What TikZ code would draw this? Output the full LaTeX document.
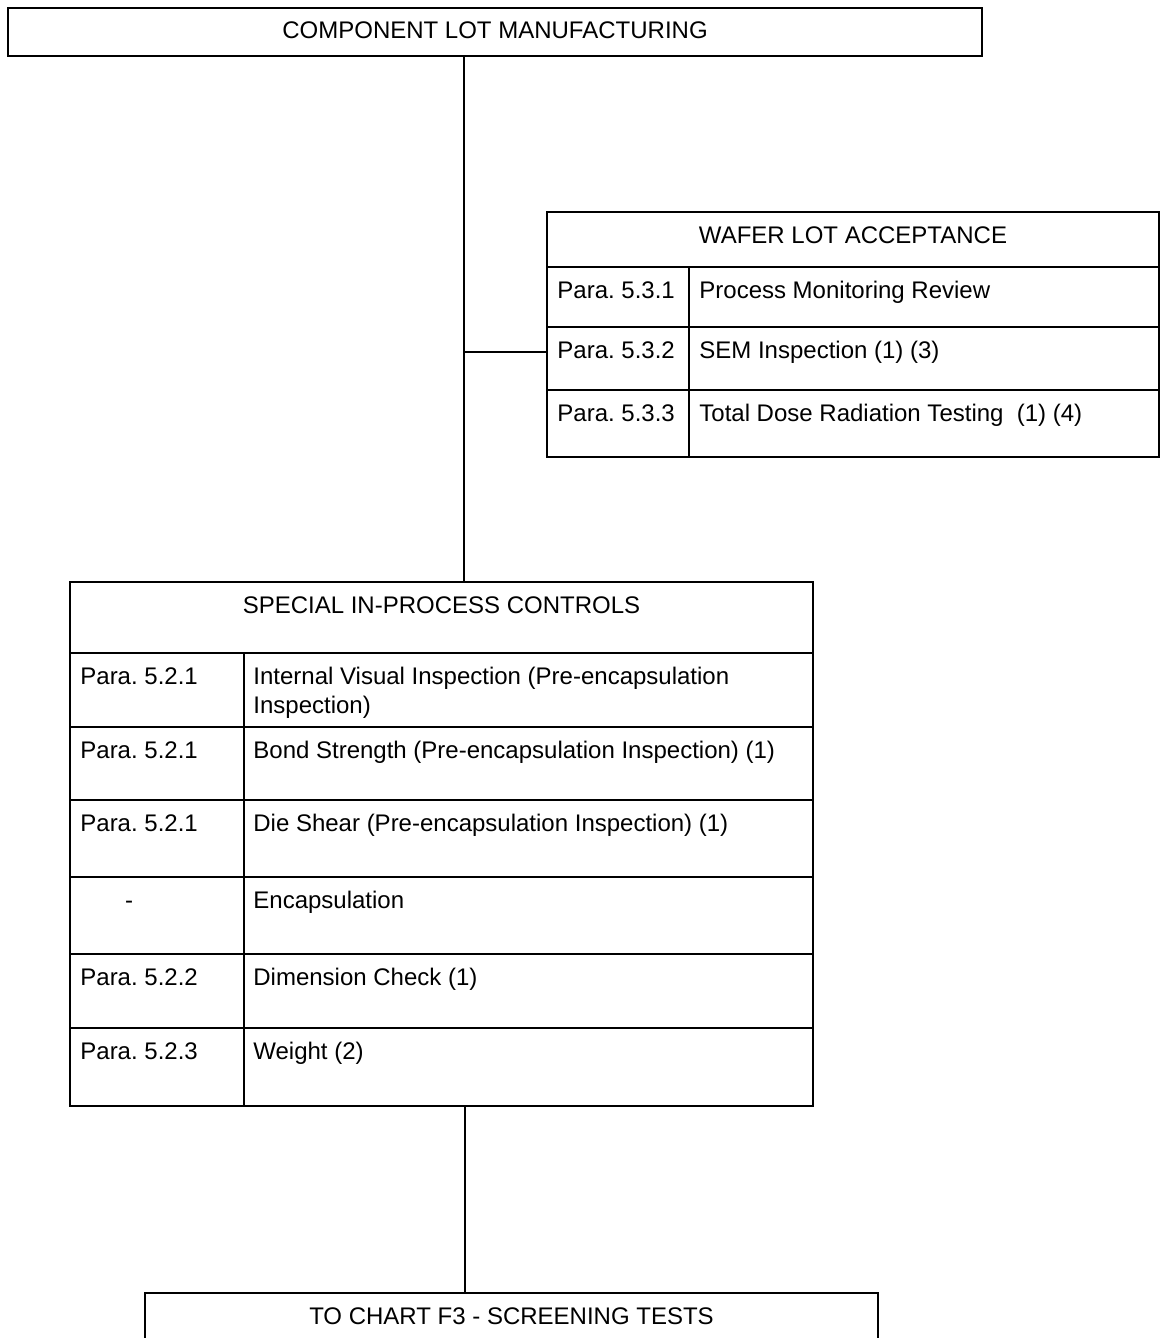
\documentclass[tikz,border=0pt]{standalone}
\usepackage{fontspec}
\setmainfont{Liberation Sans}
\frenchspacing
\tikzset{
  frame/.style={rectangle,draw=black,line width=1pt,inner sep=0pt},
  txt/.style={inner sep=0pt,font=\fontsize{12}{14.5}\selectfont},
  link/.style={draw=black,line width=1pt},
}
\begin{document}
\begin{tikzpicture}[x=0.5pt,y=-0.5pt]
\useasboundingbox (0,0) rectangle (1162,1338);
\clip (0,0) rectangle (1162,1338);
\node (top) at (495,32)[frame,minimum width=487pt,minimum height=24pt]{};
\node (ttop) at ([yshift=-16pt]top.north)[txt,anchor=base]{COMPONENT LOT MANUFACTURING};

% wafer lot acceptance
\node (wt) at (853,239.5)[frame,minimum width=306pt,minimum height=27.5pt]{};
\node (w1p) at (618,297)[frame,minimum width=71pt,minimum height=30pt]{};
\node (w1d) at (924,297)[frame,minimum width=235pt,minimum height=30pt]{};
\node (w2p) at (618,358.5)[frame,minimum width=71pt,minimum height=31.5pt]{};
\node (w2d) at (924,358.5)[frame,minimum width=235pt,minimum height=31.5pt]{};
\node (w3p) at (618,423.5)[frame,minimum width=71pt,minimum height=33.5pt]{};
\node (w3d) at (924,423.5)[frame,minimum width=235pt,minimum height=33.5pt]{};
\node (twt) at ([yshift=-16pt]wt.north)[txt,anchor=base]{WAFER LOT ACCEPTANCE};
\node (tw1p) at ([xshift=5.5pt,yshift=-16pt]w1p.north west)[txt,anchor=base west]{Para. 5.3.1};
\node (tw1d) at ([xshift=5.5pt,yshift=-16pt]w1d.north west)[txt,anchor=base west]{Process Monitoring Review};
\node (tw2p) at ([xshift=5.5pt,yshift=-16pt]w2p.north west)[txt,anchor=base west]{Para. 5.3.2};
\node (tw2d) at ([xshift=5.5pt,yshift=-16pt]w2d.north west)[txt,anchor=base west]{SEM Inspection (1) (3)};
\node (tw3p) at ([xshift=5.5pt,yshift=-16pt]w3p.north west)[txt,anchor=base west]{Para. 5.3.3};
\node (tw3d) at ([xshift=5.5pt,yshift=-16pt]w3d.north west)[txt,anchor=base west]{Total Dose Radiation Testing\ \ (1) (4)};

% special in-process controls
\node (st) at (441.5,617.5)[frame,minimum width=371.5pt,minimum height=35.5pt]{};
\node (s1p) at (157,690)[frame,minimum width=87pt,minimum height=37pt]{};
\node (s1d) at (528.5,690)[frame,minimum width=284.5pt,minimum height=37pt]{};
\node (s2p) at (157,763.5)[frame,minimum width=87pt,minimum height=36.5pt]{};
\node (s2d) at (528.5,763.5)[frame,minimum width=284.5pt,minimum height=36.5pt]{};
\node (s3p) at (157,838.5)[frame,minimum width=87pt,minimum height=38.5pt]{};
\node (s3d) at (528.5,838.5)[frame,minimum width=284.5pt,minimum height=38.5pt]{};
\node (s4p) at (157,915.5)[frame,minimum width=87pt,minimum height=38.5pt]{};
\node (s4d) at (528.5,915.5)[frame,minimum width=284.5pt,minimum height=38.5pt]{};
\node (s5p) at (157,991)[frame,minimum width=87pt,minimum height=37pt]{};
\node (s5d) at (528.5,991)[frame,minimum width=284.5pt,minimum height=37pt]{};
\node (s6p) at (157,1067)[frame,minimum width=87pt,minimum height=39pt]{};
\node (s6d) at (528.5,1067)[frame,minimum width=284.5pt,minimum height=39pt]{};
\node (tst) at ([yshift=-16pt]st.north)[txt,anchor=base]{SPECIAL IN-PROCESS CONTROLS};
\node (ts1p) at ([xshift=5.5pt,yshift=-16pt]s1p.north west)[txt,anchor=base west]{Para. 5.2.1};
\node (ts1d) at ([xshift=5pt,yshift=-16pt]s1d.north west)[txt,anchor=base west]{\vtop{\hbox{Internal Visual Inspection (Pre-encapsulation}\hbox{Inspection)}}};
\node (ts2p) at ([xshift=5.5pt,yshift=-16pt]s2p.north west)[txt,anchor=base west]{Para. 5.2.1};
\node (ts2d) at ([xshift=5pt,yshift=-16pt]s2d.north west)[txt,anchor=base west]{Bond Strength (Pre-encapsulation Inspection) (1)};
\node (ts3p) at ([xshift=5.5pt,yshift=-16pt]s3p.north west)[txt,anchor=base west]{Para. 5.2.1};
\node (ts3d) at ([xshift=5pt,yshift=-16pt]s3d.north west)[txt,anchor=base west]{Die Shear (Pre-encapsulation Inspection) (1)};
\node (ts4p) at ([xshift=-14pt,yshift=-16pt]s4p.north)[txt,anchor=base]{-};
\node (ts4d) at ([xshift=5pt,yshift=-16pt]s4d.north west)[txt,anchor=base west]{Encapsulation};
\node (ts5p) at ([xshift=5.5pt,yshift=-16pt]s5p.north west)[txt,anchor=base west]{Para. 5.2.2};
\node (ts5d) at ([xshift=5pt,yshift=-16pt]s5d.north west)[txt,anchor=base west]{Dimension Check (1)};
\node (ts6p) at ([xshift=5.5pt,yshift=-16pt]s6p.north west)[txt,anchor=base west]{Para. 5.2.3};
\node (ts6d) at ([xshift=5pt,yshift=-16pt]s6d.north west)[txt,anchor=base west]{Weight (2)};

% to chart F3
\node (chart) at (511.5,1343)[frame,minimum width=366.5pt,minimum height=50pt]{};
\node (tchart) at ([yshift=-16pt]chart.north)[txt,anchor=base]{TO CHART F3 - SCREENING TESTS};

\coordinate (trunk) at (464,0);
\coordinate (stem) at (465,0);
\coordinate (tap) at ([yshift=3.25pt]w2p.west);
\draw[link] (top.south -| trunk)--(st.north -| trunk);
\draw[link] (tap -| trunk)--(tap);
\draw[link] (s6p.south -| stem)--(chart.north -| stem);
\end{tikzpicture}
\end{document}
